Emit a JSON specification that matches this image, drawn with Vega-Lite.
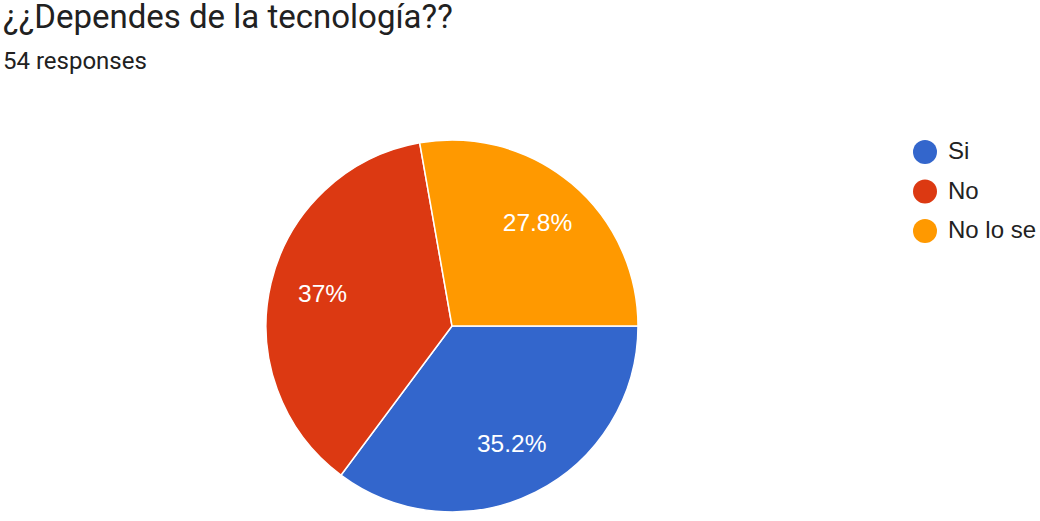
{
  "$schema": "https://vega.github.io/schema/vega-lite/v6.json",
  "autosize": {"type": "none"},
  "width": 372,
  "height": 372,
  "padding": {"left": 266, "top": 140, "right": 402, "bottom": 9},
  "background": "white",
  "config": {"view": {"stroke": null}, "font": "Roboto"},
  "title": {
    "text": "¿¿Dependes de la tecnología??",
    "subtitle": "54 responses",
    "anchor": "start",
    "frame": "group",
    "dx": -263,
    "offset": 63,
    "font": "Roboto",
    "fontSize": 33,
    "fontWeight": "normal",
    "color": "#212121",
    "subtitleFont": "Roboto",
    "subtitleFontSize": 24,
    "subtitleColor": "#212121",
    "subtitlePadding": 15
  },
  "data": {
    "values": [
      {"answer": "Si", "count": 19, "k": 1, "label": "35.2%"},
      {"answer": "No", "count": 20, "k": 2, "label": "37%"},
      {"answer": "No lo se", "count": 15, "k": 3, "label": "27.8%"}
    ]
  },
  "encoding": {
    "theta": {"field": "count", "type": "quantitative", "stack": true, "scale": {"range": [1.5707963, 7.8539816]}},
    "order": {"field": "k", "type": "quantitative"}
  },
  "layer": [
    {
      "mark": {"type": "arc", "outerRadius": 186, "stroke": "white", "strokeWidth": 1.5},
      "encoding": {
        "color": {
          "field": "answer",
          "type": "nominal",
          "sort": ["Si", "No", "No lo se"],
          "scale": {"domain": ["Si", "No", "No lo se"], "range": ["#3366cc", "#dc3912", "#ff9900"]},
          "legend": {
            "title": null,
            "orient": "none",
            "legendX": 647,
            "legendY": 0,
            "symbolType": "circle",
            "symbolSize": 576,
            "symbolStrokeWidth": 0,
            "labelFont": "Liberation Sans",
            "labelFontSize": 24,
            "labelColor": "#222222",
            "labelOffset": 11,
            "rowPadding": 15.5
          }
        }
      }
    },
    {
      "mark": {"type": "text", "radius": 133, "fontSize": 24.5, "color": "white", "font": "Liberation Sans"},
      "encoding": {"text": {"field": "label", "type": "nominal"}}
    }
  ]
}
